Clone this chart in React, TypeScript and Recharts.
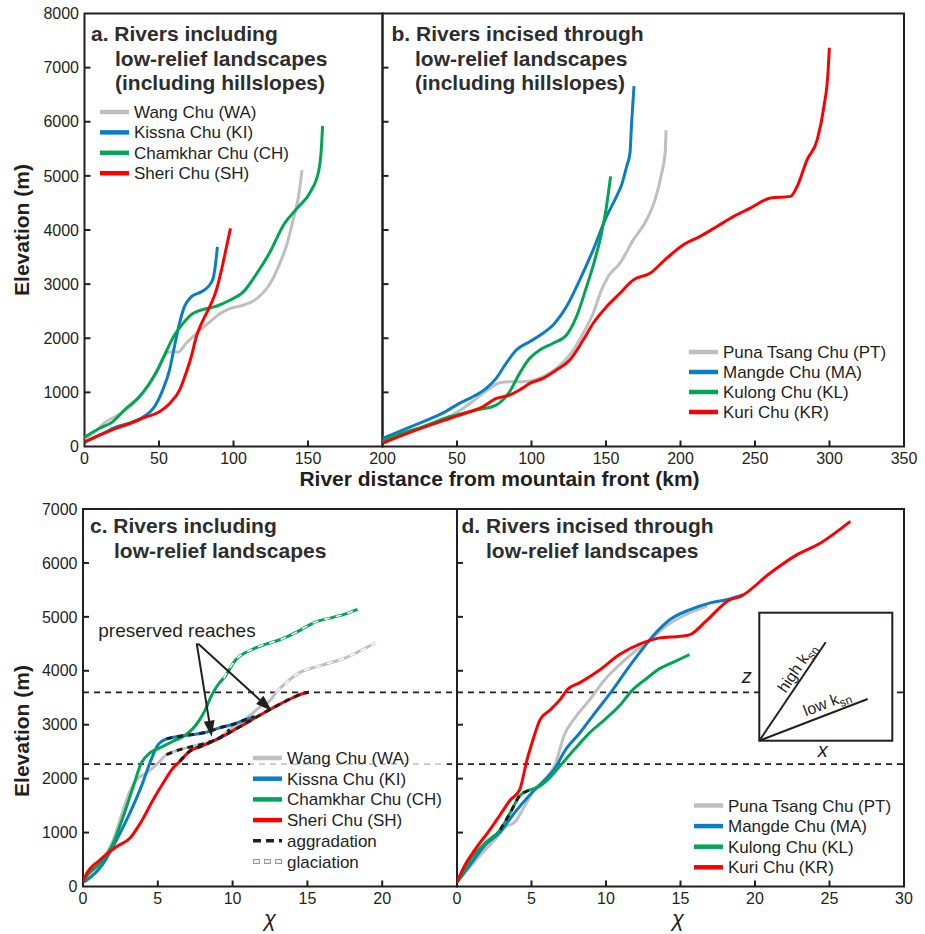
import React from 'react';
import { LineChart, Line, XAxis, YAxis, ReferenceLine, ReferenceArea } from 'recharts';

const FONT = '"Liberation Sans", Arial, Helvetica, sans-serif';
const INK = '#231f20';
const TITLE = '#2d2d2d';
const GRAY = '#bfbfbf';
const BLUE = '#0b7dc3';
const GREEN = '#00a651';
const RED = '#ff0000';

// ---- tick values ----
const kmTicksA = [0, 50, 100, 150, 200];
const kmTicksB = [0, 50, 100, 150, 200, 250, 300, 350];
const elevTicksTop = [0, 1000, 2000, 3000, 4000, 5000, 6000, 7000, 8000];
const chiTicksC = [0, 5, 10, 15, 20, 25];
const chiTicksD = [0, 5, 10, 15, 20, 25, 30];
const elevTicksBottom = [0, 1000, 2000, 3000, 4000, 5000, 6000, 7000];

type P = [number, number];

// ---- panel a: distance (km) vs elevation (m) ----
const wangA: P[] = [[0,150],[5,230],[14,450],[27.6,667],[39,975],[48,1345],[52.4,1623],[57,1746],[63,1746],[68,1900],[75,2085],[84,2300],[91,2456],[97.5,2548],[106.6,2610],[115.6,2733],[124.6,3011],[131,3380],[136,3751],[140,4183],[143.8,4646],[146,5109]];
const kissnaA: P[] = [[0,80],[12,234],[21,358],[32,450],[41,574],[46.8,728],[52.4,1037],[57,1407],[60.3,1839],[63.7,2270],[67,2579],[71.6,2764],[78.4,2857],[82.9,2949],[86.3,3103],[88,3381],[89.2,3690]];
const chamkharA: P[] = [[0,173],[9.6,327],[18.6,450],[27.6,697],[36.6,913],[43.4,1160],[50,1468],[54.7,1746],[60.3,2054],[66,2270],[72.7,2456],[79.5,2530],[88.5,2591],[97.5,2702],[106.6,2857],[115.6,3196],[124.6,3597],[133.6,4091],[142.6,4399],[151.7,4708],[157.3,5109],[158.9,5479],[159.8,5923]];
const sheriA: P[] = [[0,80],[9.6,204],[18.6,308],[30,420],[41,543],[50,636],[57,790],[63.7,1037],[68,1345],[71.6,1653],[75,2024],[79.5,2332],[84,2579],[88.5,2888],[91.9,3258],[95.3,3690],[98,4030]];

// ---- panel b ----
const punaB: P[] = [[0,86],[13.5,210],[27,364],[40,487],[54,703],[63,888],[72,1074],[78.6,1178],[85.3,1197],[94.3,1197],[103,1240],[110,1320],[116.7,1444],[125.7,1690],[134.7,2091],[141.4,2462],[147,2894],[151.5,3140],[159.4,3387],[168.4,3819],[177.3,4189],[183,4560],[187.4,5053],[189.7,5423],[190.3,5843]];
const mangdeB: P[] = [[0,148],[13.5,302],[27,456],[40,611],[51.6,796],[60.6,919],[69.6,1074],[76.3,1259],[83,1536],[89.8,1783],[98.8,1937],[107.7,2092],[114.5,2246],[123.5,2585],[132.4,3079],[141.4,3634],[150.4,4251],[157.1,4621],[160.5,4837],[163.9,5177],[166.1,5423],[167.2,5979],[168.8,6658]];
const kulongB: P[] = [[0,100],[13.5,250],[27,364],[45,549],[63,672],[76.3,765],[80.8,858],[85.3,1012],[92,1351],[98.8,1629],[105.5,1783],[114.5,1907],[123.5,2061],[130.2,2400],[137,2955],[142.5,3449],[147,3943],[150,4375],[152.2,4806],[153.1,4992]];
const kuriB: P[] = [[0,60],[22.4,302],[45,518],[58.4,642],[67.3,734],[76.3,888],[85.3,950],[92,1043],[98.8,1166],[107.7,1259],[116.7,1413],[125.7,1598],[134.7,1968],[141.4,2277],[150.4,2585],[159.4,2832],[168.4,3079],[179.6,3202],[190.8,3480],[202,3727],[213.2,3881],[224.5,4066],[235.7,4251],[246.9,4405],[260.4,4590],[273.8,4621],[278.3,4806],[285,5300],[291.8,5670],[296.3,6287],[299,6905],[299.9,7367]];

// ---- panel c: chi vs elevation ----
const wangC: P[] = [[0,100],[0.5,250],[1.13,428],[2.02,862],[2.69,1421],[3.13,1763],[3.58,1980],[4.24,2104],[4.91,2259],[5.58,2445],[6.47,2538],[7.36,2600],[8.24,2662],[9.13,2756],[9.8,2911],[10.69,3066],[11.36,3221],[11.9,3345],[12.47,3438],[12.9,3593],[13.58,3780],[14.47,3966],[15.8,4090],[17.58,4245],[19.58,4524]];
const kissnaC: P[] = [[0,80],[0.24,118],[1.36,428],[2.24,862],[3.13,1359],[3.9,1856],[4.47,2290],[5.02,2631],[5.58,2737],[6.47,2787],[7.36,2818],[8.24,2861],[9.13,2942],[10,3004],[10.9,3097],[11.47,3150]];
const chamkharC: P[] = [[0,80],[0.13,149],[1.13,428],[2.02,800],[2.69,1297],[3.36,1856],[3.9,2290],[4.47,2476],[5.13,2569],[6.02,2694],[6.91,2818],[7.58,3004],[8.13,3252],[8.58,3532],[9.13,3780],[9.4,3860],[10.2,4200],[11.5,4420],[13.3,4590],[14.5,4750],[15.4,4890],[16.7,4990],[17.5,5050],[18.35,5140]];
const sheriC: P[] = [[0,80],[0.13,180],[1.13,490],[2.24,738],[3.13,893],[3.9,1204],[4.69,1608],[5.36,1918],[6.02,2197],[6.47,2321],[7.13,2507],[8.02,2613],[8.91,2725],[9.58,2818],[10.24,2924],[11.13,3066],[12.02,3209],[13.13,3376],[14.02,3500],[14.91,3593],[15.1,3600]];
// reach ranges (chi) for the aggradation / glaciation styling
const wangAggr: P = [5.58, 9.8];
const wangGlac: P = [12.9, 20];
const kissnaAggr: P = [5.58, 12];
const chamkharGlac: P = [9.4, 19];
const sheriAggr: P = [6.47, 16];

// ---- panel d ----
const punaD: P[] = [[0,80],[0.9,370],[1.9,680],[2.55,870],[3.2,1090],[3.9,1200],[4.6,1520],[5.2,1800],[5.9,1980],[6.6,2270],[7.2,2810],[7.9,3120],[8.9,3460],[9.9,3830],[10.9,4110],[11.9,4350],[12.9,4550],[13.9,4800],[15.2,5020],[16.8,5200]];
const mangdeD: P[] = [[0,80],[0.87,400],[1.9,770],[2.9,1010],[3.9,1380],[4.9,1700],[5.9,1980],[6.6,2200],[7.2,2500],[8.25,2850],[9.26,3220],[10.3,3590],[11.3,3980],[12.3,4350],[13.3,4690],[14.3,4950],[15.6,5130],[17,5260],[18.3,5330],[19.2,5410]];
const kulongD: P[] = [[0,80],[0.87,490],[1.9,810],[2.9,1050],[3.6,1380],[4.2,1680],[4.9,1790],[5.6,1870],[6.2,2010],[6.9,2230],[7.9,2550],[8.9,2850],[9.9,3090],[10.9,3350],[11.8,3650],[12.6,3830],[13.6,4040],[14.6,4170],[15.6,4300]];
const kuriD: P[] = [[0,80],[0.54,400],[1.2,680],[2.2,1050],[2.9,1330],[3.56,1600],[4.2,1790],[4.7,2350],[5.1,2720],[5.57,3090],[6.24,3270],[6.9,3460],[7.4,3650],[8.25,3780],[9.6,4020],[10.9,4300],[12.3,4500],[12.7,4540],[13.6,4610],[15,4640],[15.6,4665],[16.8,4945],[18.3,5315],[19,5375],[21,5810],[22.8,6150],[24.4,6370],[26.4,6770]];
const kulongAggr: P = [2.9, 4.9];

// preserved-reach elevation bounds (m)
const reachBounds = [3600, 2270];

const xy = (arr: P[]) => arr.map(([x, y]) => ({ x, y }));
const sub = (arr: P[], r: P) => xy(arr.filter(([x]) => x >= r[0] && x <= r[1]));

type Box = { l: number; r: number; t: number; b: number };
const W = 925;
const H = 934;
const boxA: Box = { l: 84.5, r: 382.5, t: 13.5, b: 446.5 };
const boxB: Box = { l: 382.5, r: 904, t: 13.5, b: 446.5 };
const boxC: Box = { l: 83, r: 457, t: 509, b: 886.5 };
const boxD: Box = { l: 457, r: 904, t: 509, b: 886.5 };

function makeXTick(domain: number[], labeled: boolean, skipFirst: boolean, skipLast: boolean) {
  return (p: any) => {
    const { x, y, payload } = p;
    const v = payload.value;
    const edge = v === domain[0] || v === domain[1];
    const showLabel = labeled && !(skipFirst && v === domain[0]) && !(skipLast && v === domain[1]);
    return (
      <g>
        {!edge && <line x1={x} x2={x} y1={y} y2={y - 6} stroke={INK} strokeWidth={2} />}
        {showLabel && (
          <text x={x} y={y + 17.5} textAnchor="middle" fontSize={16} fontFamily={FONT} fill={INK}>
            {v}
          </text>
        )}
      </g>
    );
  };
}
function makeYTick(domain: number[], labeled: boolean) {
  return (p: any) => {
    const { x, y, payload } = p;
    const v = payload.value;
    const edge = v === domain[0] || v === domain[1];
    return (
      <g>
        {!edge && <line x1={x} x2={x + 6} y1={y} y2={y} stroke={INK} strokeWidth={2} />}
        {labeled && (
          <text x={x - 5.5} y={y + 5.7} textAnchor="end" fontSize={16} fontFamily={FONT} fill={INK}>
            {v}
          </text>
        )}
      </g>
    );
  };
}

function river(key: string, data: any[], color: string) {
  return (
    <Line key={key} data={data} dataKey="y" type="monotone" stroke={color} strokeWidth={3}
      dot={false} activeDot={false} isAnimationActive={false} legendType="none" />
  );
}
function aggr(key: string, data: any[]) {
  return (
    <Line key={key} data={data} dataKey="y" type="monotone" stroke={INK} strokeWidth={3}
      strokeDasharray="6 5" dot={false} activeDot={false} isAnimationActive={false} legendType="none" />
  );
}
function glac(key: string, data: any[]) {
  return (
    <Line key={key} data={data} dataKey="y" type="monotone" stroke="#ffffff" strokeWidth={1.5}
      strokeDasharray="6 6" dot={false} activeDot={false} isAnimationActive={false} legendType="none" />
  );
}

const arrowShape = (p: any) => {
  const { x1, y1, x2, y2 } = p;
  const dx = x2 - x1;
  const dy = y2 - y1;
  const len = Math.hypot(dx, dy) || 1;
  const ux = dx / len;
  const uy = dy / len;
  const hl = 16;
  const hw = 5.5;
  const bx = x2 - ux * hl;
  const by = y2 - uy * hl;
  return (
    <g>
      <line x1={x1} y1={y1} x2={bx} y2={by} stroke={INK} strokeWidth={2} />
      <polygon points={`${x2},${y2} ${bx - uy * hw},${by + ux * hw} ${bx + uy * hw},${by - ux * hw}`} fill={INK} />
    </g>
  );
};

function Panel(props: {
  box: Box; xDomain: number[]; yDomain: number[]; xTicks: number[]; yTicks: number[];
  xLabeled: boolean; yLabeled: boolean; skipFirstX?: boolean; skipLastX?: boolean; children?: React.ReactNode;
}) {
  const { box, xDomain, yDomain, xTicks, yTicks, xLabeled, yLabeled, skipFirstX, skipLastX } = props;
  return (
    <div style={{ position: 'absolute', left: 0, top: 0, width: W, height: H }}>
      <LineChart width={W} height={H}
        margin={{ left: box.l - 1, right: W - box.r, top: box.t, bottom: H - box.b - 1 }}>
        <XAxis type="number" dataKey="x" domain={xDomain} ticks={xTicks} interval={0}
          height={1} tickSize={0} tickMargin={0} tickLine={false} axisLine={false}
          tick={makeXTick(xDomain, xLabeled, !!skipFirstX, !!skipLastX)} allowDataOverflow />
        <YAxis type="number" dataKey="y" domain={yDomain} ticks={yTicks} interval={0}
          width={1} tickSize={0} tickMargin={0} tickLine={false} axisLine={false}
          tick={makeYTick(yDomain, yLabeled)} allowDataOverflow />
        {props.children}
        <ReferenceArea x1={xDomain[0]} x2={xDomain[1]} y1={yDomain[0]} y2={yDomain[1]}
          fill="none" fillOpacity={0} stroke={INK} strokeWidth={2} ifOverflow="visible" />
      </LineChart>
    </div>
  );
}

function Legend({ x, y0, dy, items }: { x: number; y0: number; dy: number; items: { label: string; color: string; kind?: string }[] }) {
  return (
    <g>
      {items.map((it, i) => {
        const y = y0 + dy * i;
        let sample;
        if (it.kind === 'aggr') {
          sample = <line x1={x} x2={x + 29} y1={y} y2={y} stroke={INK} strokeWidth={3.5} strokeDasharray="8 5" />;
        } else if (it.kind === 'glac') {
          sample = (
            <g>
              <line x1={x} x2={x + 29} y1={y} y2={y} stroke="#9a9a9a" strokeWidth={5} strokeDasharray="7 4" />
              <line x1={x} x2={x + 29} y1={y} y2={y} stroke="#ffffff" strokeWidth={2.4} strokeDasharray="5 6" strokeDashoffset={-1} />
            </g>
          );
        } else {
          sample = <line x1={x} x2={x + 29} y1={y} y2={y} stroke={it.color} strokeWidth={4.5} />;
        }
        return (
          <g key={i}>
            {sample}
            <text x={x + 34} y={y + 6} fontSize={17} fontFamily={FONT} fill={INK}>{it.label}</text>
          </g>
        );
      })}
    </g>
  );
}

function Title({ x, x2, y, lines }: { x: number; x2: number; y: number; lines: string[] }) {
  return (
    <g>
      {lines.map((t, i) => (
        <text key={i} x={i === 0 ? x : x2} y={y + 24.5 * i} fontSize={21} fontWeight="bold" fontFamily={FONT} fill={TITLE}>
          {t}
        </text>
      ))}
    </g>
  );
}

export default function App() {
  return (
    <div style={{ position: 'absolute', left: 0, top: 0, width: W, height: H, background: '#ffffff' }}>
      {/* panel a */}
      <Panel box={boxA} xDomain={[0, 200]} yDomain={[0, 8000]} xTicks={kmTicksA} yTicks={elevTicksTop} xLabeled yLabeled>
        {river('wa', xy(wangA), GRAY)}
        {river('ki', xy(kissnaA), BLUE)}
        {river('ch', xy(chamkharA), GREEN)}
        {river('sh', xy(sheriA), RED)}
      </Panel>
      {/* panel b */}
      <Panel box={boxB} xDomain={[0, 350]} yDomain={[0, 8000]} xTicks={kmTicksB} yTicks={elevTicksTop} xLabeled yLabeled={false} skipFirstX>
        {river('pt', xy(punaB), GRAY)}
        {river('ma', xy(mangdeB), BLUE)}
        {river('kl', xy(kulongB), GREEN)}
        {river('kr', xy(kuriB), RED)}
      </Panel>
      {/* panel c */}
      <Panel box={boxC} xDomain={[0, 25]} yDomain={[0, 7000]} xTicks={chiTicksC} yTicks={elevTicksBottom} xLabeled yLabeled skipLastX>
        {reachBounds.map((v) => (
          <ReferenceLine key={'c' + v} y={v} stroke={INK} strokeWidth={1.6} strokeDasharray="6 5" />
        ))}
        {river('wa', xy(wangC), GRAY)}
        {glac('wag', sub(wangC, wangGlac))}
        {river('ki', xy(kissnaC), BLUE)}
        {river('ch', xy(chamkharC), GREEN)}
        {glac('chg', sub(chamkharC, chamkharGlac))}
        {river('sh', xy(sheriC), RED)}
        {aggr('waa', sub(wangC, wangAggr))}
        {aggr('kia', sub(kissnaC, kissnaAggr))}
        {aggr('sha', sub(sheriC, sheriAggr))}
        <ReferenceLine segment={[{ x: 7.6, y: 4510 }, { x: 8.6, y: 2778 }]} shape={arrowShape} ifOverflow="visible" />
        <ReferenceLine segment={[{ x: 7.7, y: 4500 }, { x: 12.61, y: 3260 }]} shape={arrowShape} ifOverflow="visible" />
      </Panel>
      {/* panel d */}
      <Panel box={boxD} xDomain={[0, 30]} yDomain={[0, 7000]} xTicks={chiTicksD} yTicks={elevTicksBottom} xLabeled yLabeled={false}>
        {reachBounds.map((v) => (
          <ReferenceLine key={'d' + v} y={v} stroke={INK} strokeWidth={1.6} strokeDasharray="6 5" />
        ))}
        {river('pt', xy(punaD), GRAY)}
        {river('ma', xy(mangdeD), BLUE)}
        {river('kl', xy(kulongD), GREEN)}
        {river('kr', xy(kuriD), RED)}
        {aggr('kla', sub(kulongD, kulongAggr))}
      </Panel>

      {/* annotations, titles and legends */}
      <svg width={W} height={H} style={{ position: 'absolute', left: 0, top: 0, pointerEvents: 'none' }}>
        <Title x={91} x2={115} y={41} lines={['a. Rivers including', 'low-relief landscapes', '(including hillslopes)']} />
        <Title x={391.5} x2={415} y={41} lines={['b. Rivers incised through', 'low-relief landscapes', '(including hillslopes)']} />
        <Title x={90} x2={114} y={533} lines={['c. Rivers including', 'low-relief landscapes']} />
        <Title x={461.5} x2={486} y={533} lines={['d. Rivers incised through', 'low-relief landscapes']} />

        <Legend x={100} y0={112} dy={20.4} items={[
          { label: 'Wang Chu (WA)', color: GRAY },
          { label: 'Kissna Chu (KI)', color: BLUE },
          { label: 'Chamkhar Chu (CH)', color: GREEN },
          { label: 'Sheri Chu (SH)', color: RED },
        ]} />
        <Legend x={689} y0={352} dy={20} items={[
          { label: 'Puna Tsang Chu (PT)', color: GRAY },
          { label: 'Mangde Chu (MA)', color: BLUE },
          { label: 'Kulong Chu (KL)', color: GREEN },
          { label: 'Kuri Chu (KR)', color: RED },
        ]} />
        <rect x={250} y={746} width={197} height={126} fill="#ffffff" fillOpacity={0.75} />
        <Legend x={253} y0={758} dy={20.7} items={[
          { label: 'Wang Chu (WA)', color: GRAY },
          { label: 'Kissna Chu (KI)', color: BLUE },
          { label: 'Chamkhar Chu (CH)', color: GREEN },
          { label: 'Sheri Chu (SH)', color: RED },
          { label: 'aggradation', color: INK, kind: 'aggr' },
          { label: 'glaciation', color: GRAY, kind: 'glac' },
        ]} />
        <Legend x={694} y0={805.5} dy={20.6} items={[
          { label: 'Puna Tsang Chu (PT)', color: GRAY },
          { label: 'Mangde Chu (MA)', color: BLUE },
          { label: 'Kulong Chu (KL)', color: GREEN },
          { label: 'Kuri Chu (KR)', color: RED },
        ]} />

        <text x={98.3} y={636.7} fontSize={19} fontFamily={FONT} fill={INK}>preserved reaches</text>

        {/* inset schematic */}
        <rect x={759.3} y={612.7} width={133} height={128} fill="#ffffff" stroke={INK} strokeWidth={2} />
        <line x1={759.3} y1={740.7} x2={825.7} y2={642.3} stroke={INK} strokeWidth={2} />
        <line x1={759.3} y1={740.7} x2={867.7} y2={699} stroke={INK} strokeWidth={2} />
        <g transform="translate(797,668) rotate(-56)">
          <text x={0} y={5} textAnchor="middle" fontSize={16} fontFamily={FONT} fill={INK}>
            high k<tspan fontSize={12} dy={4}>sn</tspan>
          </text>
        </g>
        <g transform="translate(827,703) rotate(-21)">
          <text x={0} y={5} textAnchor="middle" fontSize={16} fontFamily={FONT} fill={INK}>
            low k<tspan fontSize={12} dy={4}>sn</tspan>
          </text>
        </g>
        <text x={746.7} y={683} textAnchor="middle" fontSize={20} fontStyle="italic" fontFamily={FONT} fill={INK}>z</text>
        <text x={822.7} y={757} textAnchor="middle" fontSize={20} fontStyle="italic" fontFamily={FONT} fill={INK}>x</text>

        {/* axis titles */}
        <text x={499.5} y={486} textAnchor="middle" fontSize={21} fontWeight="bold" fontFamily={FONT} fill={INK}>
          River distance from mountain front (km)
        </text>
        <text transform="translate(29,230) rotate(-90)" textAnchor="middle" fontSize={21} fontWeight="bold" fontFamily={FONT} fill={INK}>
          Elevation (m)
        </text>
        <text transform="translate(29,731) rotate(-90)" textAnchor="middle" fontSize={21} fontWeight="bold" fontFamily={FONT} fill={INK}>
          Elevation (m)
        </text>
        <text x={270} y={926} textAnchor="middle" fontSize={22} fontStyle="italic" fontFamily={FONT} fill={INK}>χ</text>
        <text x={678} y={926} textAnchor="middle" fontSize={22} fontStyle="italic" fontFamily={FONT} fill={INK}>χ</text>
      </svg>
    </div>
  );
}
